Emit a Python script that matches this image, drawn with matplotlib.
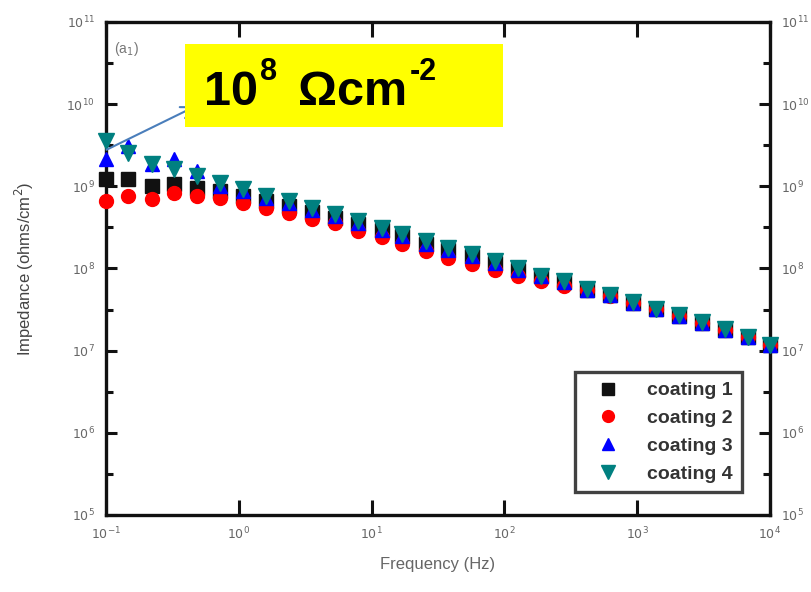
import matplotlib
matplotlib.use("Agg")
import matplotlib.pyplot as plt
from matplotlib.ticker import FixedLocator, NullFormatter
from matplotlib.patches import Rectangle

plt.rcParams['font.family'] = ['Liberation Sans', 'DejaVu Sans']

# Frequency (Hz)
freq = [0.1, 0.147, 0.222, 0.326, 0.485, 0.724, 1.08, 1.61, 2.40, 3.58,
        5.33, 7.95, 11.9, 17.1, 25.5, 37.9, 56.6, 84.4, 126, 188,
        279, 417, 621, 926, 1380, 2060, 3070, 4580, 6820, 10000]

# Impedance (ohms/cm^2)
coating1 = [1.23e9, 1.23e9, 1.01e9, 1.07e9, 9.5e8, 8.8e8, 7.6e8, 6.6e8, 5.75e8, 4.9e8,
            4.1e8, 3.5e8, 2.9e8, 2.5e8, 2.0e8, 1.67e8, 1.41e8, 1.15e8, 9.7e7, 8.0e7,
            6.8e7, 5.5e7, 4.7e7, 3.85e7, 3.25e7, 2.67e7, 2.19e7, 1.8e7, 1.48e7, 1.18e7]
coating2 = [6.6e8, 7.6e8, 7.0e8, 8.3e8, 7.6e8, 7.2e8, 6.3e8, 5.4e8, 4.7e8, 4.0e8,
            3.6e8, 2.85e8, 2.4e8, 1.97e8, 1.62e8, 1.33e8, 1.12e8, 9.7e7, 8.2e7, 7.1e7,
            6.2e7, 5.4e7, 4.6e7, 3.85e7, 3.25e7, 2.67e7, 2.19e7, 1.8e7, 1.48e7, 1.18e7]
coating3 = [2.16e9, 3.12e9, 1.88e9, 2.16e9, 1.55e9, 1.01e9, 8.8e8, 7.2e8, 6.3e8, 5.1e8,
            4.3e8, 3.6e8, 2.9e8, 2.5e8, 2.0e8, 1.67e8, 1.41e8, 1.15e8, 9.7e7, 8.0e7,
            6.8e7, 5.5e7, 4.7e7, 3.85e7, 3.25e7, 2.67e7, 2.19e7, 1.8e7, 1.48e7, 1.18e7]
coating4 = [3.6e9, 2.57e9, 1.88e9, 1.63e9, 1.34e9, 1.10e9, 9.3e8, 7.6e8, 6.6e8, 5.4e8,
            4.6e8, 3.8e8, 3.1e8, 2.6e8, 2.15e8, 1.76e8, 1.49e8, 1.22e8, 1.0e8, 8.2e7,
            6.95e7, 5.7e7, 4.8e7, 3.95e7, 3.25e7, 2.74e7, 2.25e7, 1.85e7, 1.48e7, 1.18e7]

series_labels = ["coating 1", "coating 2", "coating 3", "coating 4"]
x_ticks = [1e-1, 1e0, 1e1, 1e2, 1e3, 1e4]
x_ticklabels = [r"$10^{-1}$", r"$10^{0}$", r"$10^{1}$", r"$10^{2}$", r"$10^{3}$", r"$10^{4}$"]
y_ticks = [1e5, 1e6, 1e7, 1e8, 1e9, 1e10, 1e11]
y_ticklabels = [r"$10^{5}$", r"$10^{6}$", r"$10^{7}$", r"$10^{8}$", r"$10^{9}$", r"$10^{10}$", r"$10^{11}$"]
y_minor = [10 ** (k + 0.5) for k in range(5, 11)]

W, H = 812, 592
fig = plt.figure(figsize=(W / 100, H / 100), dpi=100)
ax = fig.add_axes([0.1305, 0.1301, 0.8177, 0.8328])

ax.plot(freq, coating1, 's', color='#111111', ms=9.5, mec='#111111', label=series_labels[0], zorder=3, clip_on=False)
ax.plot(freq, coating2, 'o', color='#ff0000', ms=10, mec='#ff0000', label=series_labels[1], zorder=4, clip_on=False)
ax.plot(freq, coating3, '^', color='#0000ff', ms=10, mec='#0000ff', label=series_labels[2], zorder=5, clip_on=False)
ax.plot(freq, coating4, 'v', color='#008080', ms=11.5, mec='#008080', label=series_labels[3], zorder=6, clip_on=False)

ax.set_xscale('log')
ax.set_yscale('log')
ax.set_xlim(1e-1, 1e4)
ax.set_ylim(1e5, 1e11)

ax.xaxis.set_major_locator(FixedLocator(x_ticks))
ax.set_xticklabels(x_ticklabels)
ax.xaxis.set_minor_locator(FixedLocator([]))
ax.yaxis.set_major_locator(FixedLocator(y_ticks))
ax.set_yticklabels(y_ticklabels)
ax.yaxis.set_minor_locator(FixedLocator(y_minor))
ax.yaxis.set_minor_formatter(NullFormatter())

for s in ax.spines.values():
    s.set_linewidth(2.4)
    s.set_color('#111111')

ax.tick_params(axis='both', which='major', direction='in', length=8, width=2.2,
               top=True, right=True, labelright=True, labelsize=9, labelcolor='#666666',
               color='#111111', pad=8)
ax.tick_params(axis='x', which='major', length=11)
ax.tick_params(axis='both', which='minor', direction='in', length=5, width=2.2,
               top=True, right=True, color='#111111')

ax.set_xlabel("Frequency (Hz)", fontsize=12, color='#666666', labelpad=10)
ax.set_ylabel("Impedance (ohms/cm$^2$)", fontsize=12, color='#444444', labelpad=22)

ax.text(0.012, 0.945, r"(a$_1$)", transform=ax.transAxes, fontsize=10, color='#777777',
        ha='left', va='center')

leg = ax.legend(loc='upper left', bbox_to_anchor=(0.706, 0.29), borderaxespad=0,
                fontsize=14, frameon=True, fancybox=False, edgecolor='#111111',
                handletextpad=0.8, borderpad=0.5, labelspacing=0.52, handlelength=2.4,
                markerscale=0.85)
leg.get_frame().set_linewidth(2.4)
for t in leg.get_texts():
    t.set_color('#333333')
    t.set_fontweight('bold')

# annotation box
rect = Rectangle((185 / W, 1 - 127 / H), (503 - 185) / W, (127 - 44) / H,
                 transform=fig.transFigure, facecolor='#ffff00', edgecolor='none', zorder=10)
fig.patches.append(rect)
base = 1 - 105 / H
sup = 1 - 80 / H
kw = dict(fontweight='bold', color='black', ha='left', va='baseline', zorder=11)
fig.text(204 / W, base, "10", fontsize=35, **kw)
fig.text(260 / W, sup, "8", fontsize=22, **kw)
fig.text(298 / W, base, "\u03a9cm", fontsize=35, **kw)
fig.text(410 / W, sup, "-2", fontsize=22, **kw)

ax.annotate("", xy=(198 / W, 1 - 105 / H), xytext=(104 / W, 1 - 151 / H),
            xycoords='figure fraction', textcoords='figure fraction',
            arrowprops=dict(arrowstyle='->', color='#4a7ebb', lw=1.5, mutation_scale=22),
            zorder=12, annotation_clip=False)

fig.savefig("out.png", dpi=100)
